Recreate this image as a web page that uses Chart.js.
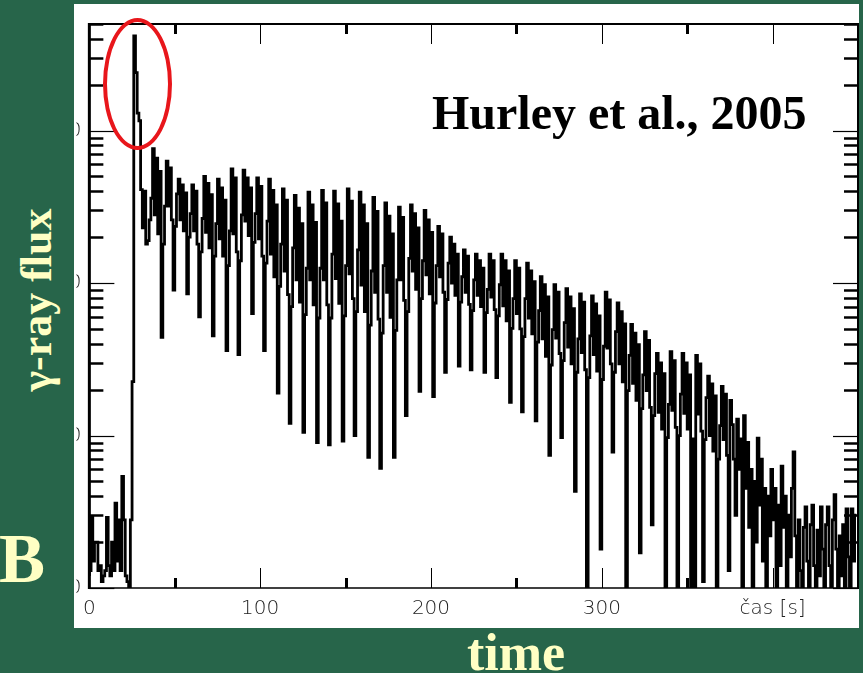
<!DOCTYPE html>
<html>
<head>
<meta charset="utf-8">
<script src="https://cdn.jsdelivr.net/npm/chart.js@4.4.1/dist/chart.umd.min.js"></script>
<style>
  html, body { margin: 0; padding: 0; }
  body { width: 863px; height: 673px; background: #27654a; position: relative; overflow: hidden; }
  #panel { position: absolute; left: 74px; top: 4px; width: 785px; height: 624px; background: #fff; }
  .lbl { position: absolute; font-family: 'Liberation Serif', 'Times New Roman', serif; font-weight: bold; line-height: 1; white-space: nowrap; }
  #source { left: 432px; top: 89px; font-size: 48px; color: #000; }
  #ylab { left: -113px; top: 275px; width: 300px; height: 50px; line-height: 50px; text-align: center; font-size: 44px; color: #ffffc4; transform: rotate(-90deg); }
  #letter { left: -1px; top: 525px; font-size: 69px; color: #ffffc4; }
  #xlab { left: 416px; width: 200px; text-align: center; top: 627px; font-size: 52px; color: #ffffc4; }
  #ring { position: absolute; left: 103px; top: 18px; width: 69px; height: 132px; border: 4px solid #e8161b; border-radius: 50%; box-sizing: border-box; }
</style>
</head>
<body>
<div id="panel"><canvas id="curve"></canvas></div>
<div class="lbl" id="source">Hurley et al., 2005</div>
<div class="lbl" id="ylab">γ-ray flux</div>
<div class="lbl" id="letter">B</div>
<div class="lbl" id="xlab">time</div>
<div id="ring"></div>
<script>
// light curve in 1 s bins, first bin starts at t = 0
const binSec = 1;

const fluxQuiet = [12, 13, 29, 15, 20, 20, 13, 14, 11, 12, 13, 29, 14, 12, 20, 13, 36, 15, 28, 13, 54, 28, 12, 11, 8, 28];
const fluxSpike = [226, 41700, 24000, 13000, 11600, 4100, 2300, 4000, 1800, 1900, 2600, 3600];
const fluxPulse1 = [
  7600, 2800, 6600, 2100, 5400, 440, 1800, 3200,
  6300, 3200, 5700, 2600, 900, 2350, 3850,
  4800, 2600, 4400, 2200, 3900, 850, 2000, 2850,
  4400, 2200, 4000, 1800, 600, 1600, 2650,
  5000, 2150, 4500, 1700, 3800, 450, 1500, 2450,
  4800, 1950, 4200, 1500, 3500, 360, 1300, 2200,
  5600, 2100, 4900, 1600, 340, 1400, 2800,
  5500, 2550, 4900, 2050, 4200, 630, 1850, 2850,
  4900, 1950, 4300, 1500, 360, 1350, 2550,
  4800, 1550, 4050, 1100, 3250, 190, 950, 1800
];
const fluxPulse2 = [
  4150, 1200, 3500, 840, 120, 700, 1700,
  3750, 1050, 3100, 750, 2450, 105, 620, 1250,
  3950, 1050, 3250, 720, 2500, 90, 590, 1250,
  4050, 1050, 3350, 720, 87, 590, 1550,
  4000, 1070, 3300, 735, 2550, 92, 610, 1300,
  4150, 1150, 3450, 790, 100, 650, 1650,
  3950, 970, 3250, 650, 2450, 72, 530, 1200,
  3650, 870, 2950, 580, 61, 470, 1300,
  3350, 870, 2750, 595, 2100, 72, 490, 1050,
  3150, 1050, 2700, 770, 135, 650, 1450,
  3250, 1200, 2850, 910, 2300, 195, 790, 1400,
  3000, 1130, 2600, 850, 2150, 180, 740, 1300
];
const fluxPulse3 = [
  2350, 1100, 2100, 870, 260, 780, 1350,
  2000, 1000, 1800, 830, 1550, 285, 750, 1100,
  1650, 870, 1500, 725, 270, 660, 1050,
  1550, 830, 1400, 700, 1250, 260, 640, 910,
  1550, 810, 1400, 670, 240, 610, 975,
  1550, 710, 1400, 565, 1200, 165, 505, 790,
  1400, 630, 1250, 500, 143, 445, 790,
  1350, 590, 1200, 465, 1020, 125, 410, 660,
  1100, 430, 975, 330, 810, 74, 290, 495,
  975, 435, 870, 345, 97, 310, 550,
  920, 380, 810, 295, 680, 43, 260, 430,
  850, 350, 750, 270, 5, 240, 450
];
const fluxPulse4 = [
  825, 340, 730, 265, 610, 18, 233, 385,
  870, 375, 775, 295, 78, 260, 480,
  740, 295, 650, 225, 540, 5, 197, 335,
  535, 220, 470, 170, 395, 17, 150, 250,
  480, 197, 420, 153, 26, 135, 255,
  345, 142, 300, 110, 255, 5, 97, 160,
  355, 146, 310, 113, 5, 100, 187,
  345, 140, 300, 110, 250, 5, 95, 5,
  335, 138, 295, 107, 11, 94, 177,
  245, 100, 218, 79, 182, 5, 70, 116,
  210, 94, 187, 74, 13, 170, 118
];
const fluxFade = [
  70, 30, 128, 60, 95, 5, 135, 45,
  90, 25, 60, 5, 50, 20, 96, 35,
  70, 15, 45, 5, 40, 22, 60,
  28, 45, 5, 35, 14, 63, 25, 40,
  5, 30, 16, 45, 78, 22, 5,
  28, 13, 5, 25, 34, 15, 5, 26,
  35, 14, 5, 24, 12, 34, 18, 5,
  26, 34, 14, 5, 28, 41, 18, 5,
  22, 12, 26, 5, 33, 16, 5, 33, 15, 30
];

const yDecades = [10, 100, 1000, 10000];
const xTickValues = [0, 100, 200, 300, 400];
const xTickLabels = ['0', '100', '200', '300', 'čas [s]'];

const flux = [].concat(fluxQuiet, fluxSpike, fluxPulse1, fluxPulse2, fluxPulse3, fluxPulse4, fluxFade);
const points = flux.map((v, i) => ({ x: i * binSec, y: v }));

// box around the plot with inward ticks on all four sides
const frameTicks = {
  id: 'frameTicks',
  afterDraw(chart) {
    const { ctx, chartArea: a, scales: { x, y } } = chart;
    const seg = (x1, y1, x2, y2, w) => {
      ctx.lineWidth = w;
      ctx.beginPath();
      ctx.moveTo(x1, y1);
      ctx.lineTo(x2, y2);
      ctx.stroke();
    };
    ctx.save();
    ctx.strokeStyle = '#000';
    for (let t = 0; t <= x.max; t += 50) {
      const px = Math.round(x.getPixelForValue(t)) + 0.5;
      const major = t % 100 === 0;
      const len = major ? 20 : 10;
      const w = major ? 1 : 3;
      seg(px, a.top, px, a.top + len, w);
      seg(px, a.bottom, px, a.bottom - len, w);
    }
    yDecades.forEach(d => {
      for (let m = 1; m <= 9; m++) {
        const v = d * m;
        if (v > y.max) break;
        const py = Math.round(y.getPixelForValue(v)) + 0.5;
        const len = m === 1 ? 25 : 14;
        const w = m === 1 ? 1.2 : 2.5;
        seg(a.left, py, a.left + len, py, w);
        seg(a.right, py, a.right - len, py, w);
      }
    });
    seg(a.left, a.top - 1, a.left, a.bottom + 1, 3);
    seg(a.left, a.top, a.right, a.top, 2);
    seg(a.right, a.top - 1, a.right, a.bottom + 1, 2);
    seg(a.left, a.bottom, a.right, a.bottom, 1.5);
    ctx.restore();
  }
};

const tickFont = { family: "'DejaVu Sans', sans-serif", size: 20, weight: 300 };

new Chart(document.getElementById('curve').getContext('2d'), {
  type: 'line',
  data: {
    datasets: [{
      data: points,
      borderColor: '#000',
      borderWidth: 2.8,
      borderJoinStyle: 'miter',
      stepped: 'after',
      pointRadius: 0,
      fill: false
    }]
  },
  options: {
    responsive: true,
    maintainAspectRatio: false,
    animation: false,
    layout: { padding: { top: 16, right: 1, bottom: 0, left: 0 } },
    plugins: {
      legend: { display: false },
      tooltip: { enabled: false }
    },
    scales: {
      x: {
        type: 'linear',
        min: 0,
        max: 450,
        grid: { display: false, drawTicks: false },
        border: { display: false },
        afterBuildTicks: s => { s.ticks = xTickValues.map(v => ({ value: v })); },
        afterFit: s => { s.height = 40; },
        ticks: {
          padding: 9,
          maxRotation: 0,
          autoSkip: false,
          color: '#222',
          font: tickFont,
          callback: (v, i) => xTickLabels[i]
        }
      },
      y: {
        type: 'logarithmic',
        min: 10,
        max: 50000,
        grid: { display: false, drawTicks: false },
        border: { display: false },
        afterBuildTicks: s => { s.ticks = yDecades.map(v => ({ value: v })); },
        afterFit: s => { s.width = 13; },
        ticks: {
          padding: 8,
          color: '#222',
          font: tickFont,
          callback: v => String(v)
        }
      }
    }
  },
  plugins: [frameTicks]
});
</script>
</body>
</html>
